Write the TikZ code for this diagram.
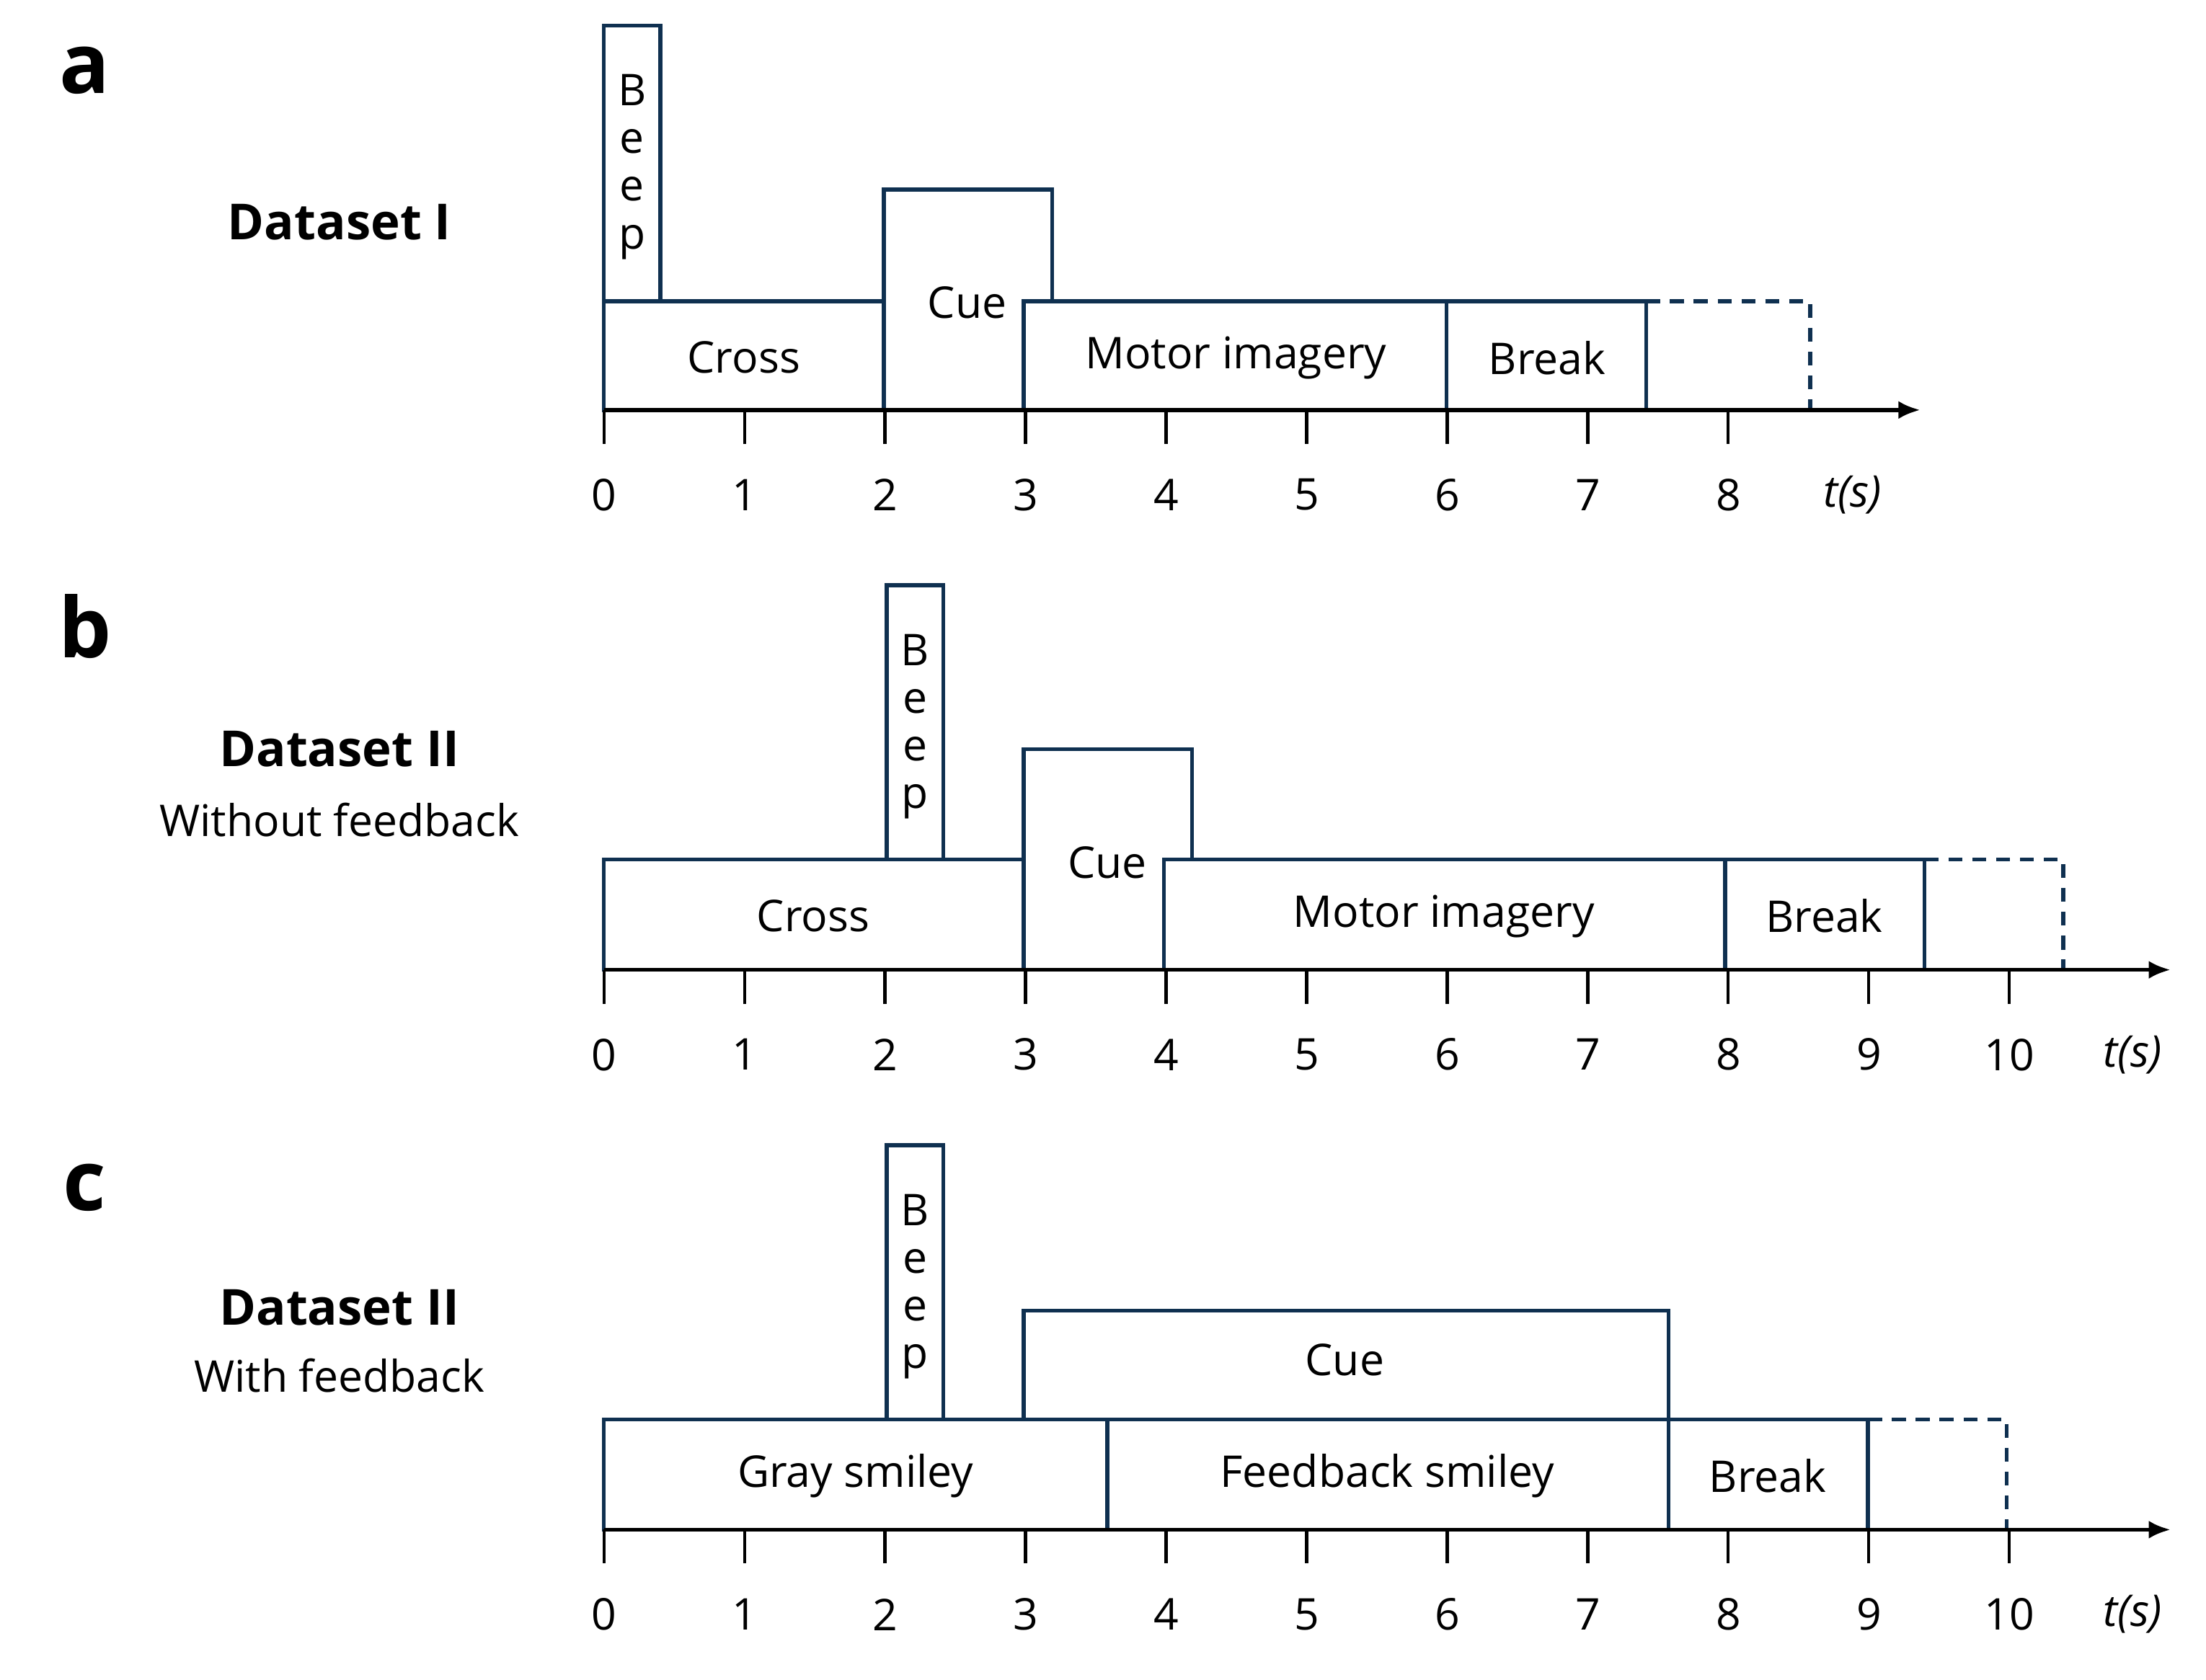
\documentclass[tikz,border=0pt]{standalone}
\usepackage{fontspec}
\setmainfont{Open Sans}
\begin{document}
\begin{tikzpicture}[x=0.05cm,y=-0.05cm,
 bx/.style={draw=nb,line width=4pt},
 lab/.style={font=\fontsize{44}{50}\selectfont,inner sep=0},
 tick/.style={font=\fontsize{44}{50}\selectfont,inner sep=0},
 ds/.style={font=\fontsize{50}{58}\selectfont\bfseries,inner sep=0},
 sub/.style={font=\fontsize{44}{50}\selectfont,inner sep=0},
 let/.style={font=\fontsize{84}{90}\selectfont\bfseries,inner sep=0},
 dsh/.style={draw=nb,line width=4pt,dash pattern=on 14pt off 10pt},
 ax/.style={line width=4pt,-{Latex[length=22pt,width=18pt]}}]
\definecolor{nb}{HTML}{0F3050}
\useasboundingbox (0,0) rectangle (1560,1188);
\usetikzlibrary{arrows.meta}
% panel a
\node[let] (la) at (60,50) {a};
\node[ds] (da) at (240,157) {Dataset I};
\draw[bx] (427,213) rectangle (467,18);
\node[lab,align=center] (ba) at (447,118) {B\\[-2pt]e\\[-2pt]e\\[-2pt]p};
\draw[bx] (427,290) rectangle (625,213); \node[lab] (cra) at (526,253) {Cross};
\draw[bx] (625,290) rectangle (744,134); \node[lab] (cua) at (684,214) {Cue};
\draw[bx,fill=white] (724,290) rectangle (1023,213); \node[lab] (mia) at (874,253) {Motor imagery};
\draw[bx] (1023,290) rectangle (1164,213); \node[lab] (bra) at (1094,253) {Break};
\draw[dsh] (1164,213) -- (1280,213) -- (1280,290);
\draw[ax] (427,290) -- (1358,290);
\foreach \i in {0,...,8} {\draw[line width=3pt] (427+99.4*\i,290) -- (427+99.4*\i,314);
 \node[tick] at (427+99.4*\i,350) {\i};}
\node[tick] (tsa) at (1310,350) {\itshape t(s)};
% panel b
\node[let] (lb) at (60,443) {b};
\node[ds] (db) at (240,530) {Dataset II};
\node[sub] (wb) at (240,580) {Without feedback};
\draw[bx] (627,608) rectangle (667,414);
\node[lab,align=center] (bb) at (647,514) {B\\[-2pt]e\\[-2pt]e\\[-2pt]p};
\draw[bx] (427,686) rectangle (724,608); \node[lab] (crb) at (575,648) {Cross};
\draw[bx] (724,686) rectangle (843,530); \node[lab] (cub) at (783,610) {Cue};
\draw[bx,fill=white] (823,686) rectangle (1220,608); \node[lab] (mib) at (1021,648) {Motor imagery};
\draw[bx] (1220,686) rectangle (1361,608); \node[lab] (brb) at (1290,648) {Break};
\draw[dsh] (1361,608) -- (1459,608) -- (1459,686);
\draw[ax] (427,686) -- (1535,686);
\foreach \i in {0,...,10} {\draw[line width=3pt] (427+99.4*\i,686) -- (427+99.4*\i,710);
 \node[tick] at (427+99.4*\i,746) {\i};}
\node[tick] (tsb) at (1508,746) {\itshape t(s)};
% panel c
\node[let] (lc) at (60,840) {c};
\node[ds] (dc) at (240,925) {Dataset II};
\node[sub] (wc) at (240,973) {With feedback};
\draw[bx] (627,1004) rectangle (667,810);
\node[lab,align=center] (bc) at (647,910) {B\\[-2pt]e\\[-2pt]e\\[-2pt]p};
\draw[bx] (724,1004) rectangle (1180,927); \node[lab] (cuc) at (951,962) {Cue};
\draw[bx] (427,1082) rectangle (783,1004); \node[lab] (gsc) at (605,1044) {Gray smiley};
\draw[bx] (783,1082) rectangle (1180,1004); \node[lab] (fsc) at (981,1044) {Feedback smiley};
\draw[bx] (1180,1082) rectangle (1321,1004); \node[lab] (brc) at (1250,1044) {Break};
\draw[dsh] (1321,1004) -- (1419,1004) -- (1419,1082);
\draw[ax] (427,1082) -- (1535,1082);
\foreach \i in {0,...,10} {\draw[line width=3pt] (427+99.4*\i,1082) -- (427+99.4*\i,1106);
 \node[tick] at (427+99.4*\i,1142) {\i};}
\node[tick] (tsc) at (1508,1142) {\itshape t(s)};
\end{tikzpicture}
\end{document}
